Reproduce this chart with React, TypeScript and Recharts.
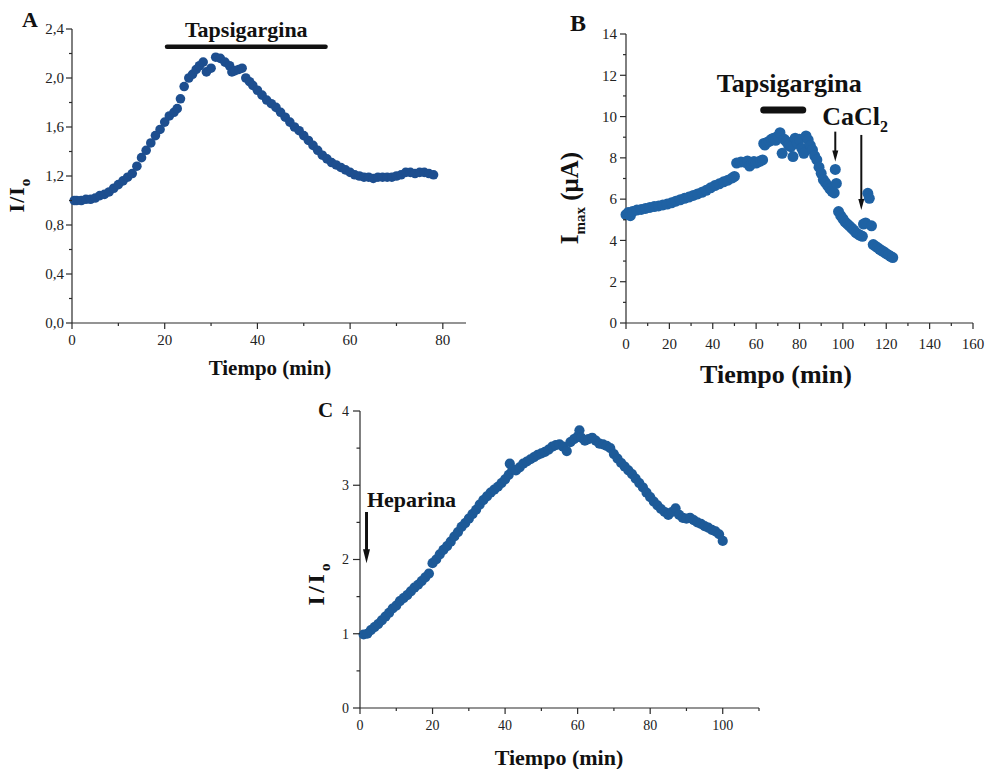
import React from 'react';
import { ScatterChart, Scatter, XAxis, YAxis, ReferenceLine, ReferenceDot } from 'recharts';

const SERIF = '"Liberation Serif", "Times New Roman", serif';
const AXIS = '#2a2a2a';
const INK = '#111';

// Panel A: tapsigargina, I/Io vs tiempo
const timeA = [0.5, 1, 2, 3, 4, 5, 6, 7, 8, 9, 10, 11, 12, 13, 14, 15, 16, 17, 18, 19, 20, 21, 22, 22.7, 23.4, 24.2, 25.2, 26, 26.8, 27.5, 28.3, 29, 30, 31, 32, 33, 34, 34.5, 35.2, 36, 36.7, 37.5, 38.3, 39, 40, 41, 42, 43, 44, 45, 46, 47, 48, 49, 50, 51, 52, 53, 54, 55, 56, 57, 58, 59, 60, 61, 62, 63, 64, 65, 66, 67, 68, 69, 70, 71, 72, 73, 74, 75, 76, 77, 78];
const ratioA = [1.0, 1.0, 1.0, 1.01, 1.01, 1.02, 1.04, 1.05, 1.07, 1.1, 1.13, 1.16, 1.19, 1.22, 1.28, 1.35, 1.41, 1.47, 1.53, 1.58, 1.64, 1.69, 1.72, 1.75, 1.83, 1.93, 2.0, 2.03, 2.07, 2.1, 2.13, 2.05, 2.08, 2.17, 2.16, 2.13, 2.1, 2.05, 2.06, 2.07, 2.08, 2.0, 1.97, 1.94, 1.9, 1.86, 1.82, 1.79, 1.76, 1.72, 1.68, 1.64, 1.6, 1.57, 1.53, 1.49, 1.45, 1.41, 1.37, 1.34, 1.31, 1.29, 1.27, 1.25, 1.23, 1.21, 1.2, 1.19, 1.19, 1.18, 1.19, 1.19, 1.19, 1.19, 1.2, 1.21, 1.23, 1.23, 1.22, 1.23, 1.23, 1.22, 1.21];
const ticksAX = [0, 10, 20, 30, 40, 50, 60, 70, 80];
const ticksAY = [0, 0.2, 0.4, 0.6, 0.8, 1.0, 1.2, 1.4, 1.6, 1.8, 2.0, 2.2, 2.4];

// Panel B: Imax (uA) vs tiempo
const timeB = [0, 1, 2, 3, 5, 7, 9, 11, 13, 15, 17, 19, 21, 23, 25, 27, 29, 31, 33, 35, 37, 39, 41, 43, 45, 47, 49, 50, 51, 53, 55, 56, 57, 58, 59, 60, 61, 62, 63, 63.5, 64, 65, 66, 67, 68, 69, 70, 71, 72, 73, 74, 75, 76, 77, 78, 79, 80, 81, 82, 83, 84, 85, 86, 87, 88, 89, 90, 91, 92, 93, 94, 95, 96, 96.5, 97, 98, 99, 100, 101, 102, 103, 104, 105, 106, 107, 108, 109, 109.5, 110.5, 111.5, 112.2, 113.2, 114, 115, 116, 117, 118, 119, 120, 121, 122, 123];
const currentB = [5.25, 5.35, 5.2, 5.4, 5.47, 5.5, 5.55, 5.6, 5.64, 5.67, 5.72, 5.76, 5.82, 5.9, 5.97, 6.04, 6.1, 6.18, 6.25, 6.33, 6.43, 6.55, 6.66, 6.74, 6.84, 6.92, 7.03, 7.1, 7.75, 7.8, 7.78, 7.85, 7.6, 7.72, 7.82, 7.75, 7.8, 7.85, 7.9, 8.7, 8.62, 8.75, 8.8, 8.9, 8.95, 8.85, 9.05, 9.22, 8.22, 8.9, 8.79, 8.6, 8.54, 8.06, 8.95, 8.7, 8.9, 8.46, 8.22, 9.06, 8.87, 8.6, 8.38, 8.1, 7.9, 7.55, 7.25, 6.95, 6.8, 6.65, 6.5, 6.38, 6.3, 7.44, 6.76, 5.4, 5.2, 5.05, 4.9, 4.8, 4.7, 4.6, 4.5, 4.38, 4.3, 4.25, 4.2, 4.79, 4.85, 6.28, 6.04, 4.71, 3.8, 3.72, 3.65, 3.57, 3.5, 3.44, 3.36, 3.3, 3.23, 3.17];
const ticksBX = [0, 10, 20, 30, 40, 50, 60, 70, 80, 90, 100, 110, 120, 130, 140, 150, 160];
const ticksBY = [0, 1, 2, 3, 4, 5, 6, 7, 8, 9, 10, 11, 12, 13, 14];

// Panel C: heparina, I/Io vs tiempo
const timeC = [1, 2, 3, 4, 5, 6, 7, 8, 9, 10, 11, 12, 13, 14, 15, 16, 17, 18, 19, 20, 21, 22, 23, 24, 25, 26, 27, 28, 29, 30, 31, 32, 33, 34, 35, 36, 37, 38, 39, 40, 41, 41.3, 42, 43, 44, 45, 46, 47, 48, 49, 50, 51, 52, 53, 54, 55, 56, 57, 58, 59, 60, 60.5, 61, 62, 63, 64, 65, 66, 67, 68, 69, 70, 71, 72, 73, 74, 75, 76, 77, 78, 79, 80, 81, 82, 83, 84, 85, 86, 87, 88, 89, 90, 91, 92, 93, 94, 95, 96, 97, 98, 99, 100];
const ratioC = [0.99, 1.0, 1.05, 1.09, 1.13, 1.18, 1.23, 1.28, 1.34, 1.38, 1.44, 1.48, 1.52, 1.57, 1.62, 1.66, 1.71, 1.76, 1.81, 1.95, 2.0, 2.07, 2.13, 2.18, 2.24, 2.31, 2.37, 2.44, 2.49, 2.55, 2.61, 2.67, 2.74, 2.8, 2.85, 2.9, 2.94, 2.98, 3.03, 3.08, 3.14, 3.29, 3.21, 3.2, 3.24, 3.29, 3.32, 3.35, 3.38, 3.41, 3.43, 3.45, 3.48, 3.52, 3.54, 3.55, 3.52, 3.46, 3.58, 3.62, 3.66, 3.74, 3.64, 3.6, 3.62, 3.64, 3.6, 3.56, 3.55, 3.53, 3.5, 3.42, 3.36, 3.3, 3.25, 3.2, 3.15, 3.09, 3.03, 2.97, 2.9, 2.84, 2.78, 2.73, 2.68, 2.64, 2.6, 2.64, 2.69, 2.6, 2.56, 2.55, 2.56, 2.53, 2.5, 2.48, 2.45, 2.43, 2.4, 2.38, 2.34, 2.25];
const ticksCX = [0, 10, 20, 30, 40, 50, 60, 70, 80, 90, 100, 110];
const ticksCY = [0, 0.5, 1, 1.5, 2, 2.5, 3, 3.5, 4];

const zip = (ts: number[], vs: number[]) => ts.map((t, i) => ({ t, v: vs[i] }));
const dataA = zip(timeA, ratioA);
const dataB = zip(timeB, currentB);
const dataC = zip(timeC, ratioC);

type TickOpts = {
  side: 'left' | 'bottom';
  major: (v: number) => boolean;
  fmt: (v: number) => string;
  size: number;
  gap: number;
  len?: number;
};

// axis ticks drawn by hand so minor ticks get no label and a shorter mark
const makeTick = (o: TickOpts) => (props: any) => {
  const { x, y, payload } = props;
  const v = payload.value as number;
  const big = o.major(v);
  const len = big ? o.len ?? 6 : (o.len ?? 6) / 2;
  if (o.side === 'left') {
    return (
      <g>
        <line x1={x - len} y1={y} x2={x} y2={y} stroke={AXIS} strokeWidth={1.2} />
        {big && (
          <text x={x - o.gap} y={y} dy="0.35em" textAnchor="end" fontFamily={SERIF} fontSize={o.size} fill="#222">
            {o.fmt(v)}
          </text>
        )}
      </g>
    );
  }
  return (
    <g>
      <line x1={x} y1={y} x2={x} y2={y + len} stroke={AXIS} strokeWidth={1.2} />
      {big && (
        <text x={x} y={y + o.gap} textAnchor="middle" fontFamily={SERIF} fontSize={o.size} fill="#222">
          {o.fmt(v)}
        </text>
      )}
    </g>
  );
};

const dot = (r: number, fill: string) => (p: any) => <circle cx={p.cx} cy={p.cy} r={r} fill={fill} />;

const arrowHead = (w: number, h: number) => (p: any) => (
  <polygon points={`${p.cx - w},${p.cy - h} ${p.cx + w},${p.cy - h} ${p.cx},${p.cy}`} fill={INK} />
);

const note = (content: React.ReactNode, size: number, anchor: 'start' | 'middle' = 'middle') => (p: any) => (
  <text x={p.cx} y={p.cy} textAnchor={anchor} fontFamily={SERIF} fontWeight="bold" fontSize={size} fill={INK}>
    {content}
  </text>
);

const axisLine = { stroke: AXIS, strokeWidth: 1.2 };
const comma = (v: number) => v.toFixed(1).replace('.', ',');
const plain = (v: number) => String(v);

function PanelA() {
  return (
    <ScatterChart width={470} height={390} margin={{ top: 29, right: 4, bottom: 0, left: 0 }}>
      <XAxis
        type="number"
        dataKey="t"
        domain={[0, 85]}
        ticks={ticksAX}
        interval={0}
        height={67}
        tickSize={0}
        tickMargin={0}
        tickLine={false}
        axisLine={axisLine}
        tick={makeTick({ side: 'bottom', major: (v) => v % 20 === 0, fmt: plain, size: 15, gap: 22 })}
      />
      <YAxis
        type="number"
        dataKey="v"
        domain={[0, 2.4]}
        ticks={ticksAY}
        interval={0}
        width={72}
        tickSize={0}
        tickMargin={0}
        tickLine={false}
        axisLine={axisLine}
        tick={makeTick({ side: 'left', major: (v) => Math.round(v * 10) % 4 === 0, fmt: comma, size: 15, gap: 8 })}
      />
      <ReferenceLine segment={[{ x: 20.5, y: 2.256 }, { x: 54.7, y: 2.256 }]} stroke={INK} strokeWidth={4.5} strokeLinecap="round" />
      <ReferenceDot x={37.6} y={2.335} shape={note('Tapsigargina', 22)} />
      <Scatter data={dataA} isAnimationActive={false} shape={dot(4.8, '#1d4e8f')} />
    </ScatterChart>
  );
}

function PanelB() {
  return (
    <ScatterChart width={451} height={390} margin={{ top: 34, right: 18, bottom: 0, left: 0 }}>
      <XAxis
        type="number"
        dataKey="t"
        domain={[0, 160]}
        ticks={ticksBX}
        interval={0}
        height={67}
        tickSize={0}
        tickMargin={0}
        tickLine={false}
        axisLine={axisLine}
        tick={makeTick({ side: 'bottom', major: (v) => v % 20 === 0, fmt: plain, size: 15, gap: 26 })}
      />
      <YAxis
        type="number"
        dataKey="v"
        domain={[0, 14]}
        ticks={ticksBY}
        interval={0}
        width={86}
        tickSize={0}
        tickMargin={0}
        tickLine={false}
        axisLine={axisLine}
        tick={makeTick({ side: 'left', major: (v) => v % 2 === 0, fmt: plain, size: 15, gap: 9 })}
      />
      <ReferenceLine segment={[{ x: 63.5, y: 10.32 }, { x: 81.5, y: 10.32 }]} stroke={INK} strokeWidth={7} strokeLinecap="round" />
      <ReferenceDot x={75.3} y={11.19} shape={note('Tapsigargina', 26)} />
      <ReferenceDot
        x={90.5}
        y={9.59}
        shape={note(
          <>
            CaCl
            <tspan dy={7} fontSize={16}>
              2
            </tspan>
          </>,
          26,
          'start'
        )}
      />
      <ReferenceLine segment={[{ x: 96.5, y: 9.27 }, { x: 96.5, y: 8.2 }]} stroke={INK} strokeWidth={2} />
      <ReferenceDot x={96.5} y={7.82} shape={arrowHead(3, 11)} />
      <ReferenceLine segment={[{ x: 108.5, y: 9.11 }, { x: 108.5, y: 5.9 }]} stroke={INK} strokeWidth={2} />
      <ReferenceDot x={108.5} y={5.47} shape={arrowHead(3, 11)} />
      <Scatter data={dataB} isAnimationActive={false} shape={dot(5.5, '#1f62a4')} />
    </ScatterChart>
  );
}

function PanelC() {
  return (
    <ScatterChart width={480} height={379} margin={{ top: 21, right: 11, bottom: 0, left: 0 }}>
      <XAxis
        type="number"
        dataKey="t"
        domain={[0, 110]}
        ticks={ticksCX}
        interval={0}
        height={61}
        tickSize={0}
        tickMargin={0}
        tickLine={false}
        axisLine={axisLine}
        tick={makeTick({ side: 'bottom', major: (v) => v % 20 === 0, fmt: plain, size: 14, gap: 22 })}
      />
      <YAxis
        type="number"
        dataKey="v"
        domain={[0, 4]}
        ticks={ticksCY}
        interval={0}
        width={70}
        tickSize={0}
        tickMargin={0}
        tickLine={false}
        axisLine={axisLine}
        tick={makeTick({ side: 'left', major: (v) => Number.isInteger(v), fmt: plain, size: 14, gap: 11, len: 7 })}
      />
      <ReferenceLine segment={[{ x: 1.8, y: 2.64 }, { x: 1.8, y: 2.1 }]} stroke={INK} strokeWidth={3} />
      <ReferenceDot x={1.8} y={1.95} shape={arrowHead(3.5, 14)} />
      <ReferenceDot x={1.9} y={2.707} shape={note('Heparina', 22, 'start')} />
      <Scatter data={dataC} isAnimationActive={false} shape={dot(5.1, '#1d5a98')} />
    </ScatterChart>
  );
}

function RotTitle({ x, y, size, spacing = 0, children }: { x: number; y: number; size: number; spacing?: number; children: React.ReactNode }) {
  return (
    <text
      x={x}
      y={y}
      transform={`rotate(-90, ${x}, ${y})`}
      textAnchor="middle"
      fontFamily={SERIF}
      fontWeight="bold"
      fontSize={size}
      letterSpacing={spacing}
      fill={INK}
    >
      {children}
    </text>
  );
}

export default function App() {
  const bold = { fontFamily: SERIF, fontWeight: 'bold' as const, fill: INK };
  return (
    <div style={{ position: 'absolute', left: 0, top: 0, width: 991, height: 769, background: '#fff', overflow: 'hidden' }}>
      <div style={{ position: 'absolute', left: 0, top: 0 }}>
        <PanelA />
      </div>
      <div style={{ position: 'absolute', left: 540, top: 0 }}>
        <PanelB />
      </div>
      <div style={{ position: 'absolute', left: 290, top: 390 }}>
        <PanelC />
      </div>
      <svg width={991} height={769} style={{ position: 'absolute', left: 0, top: 0, pointerEvents: 'none' }}>
        <text x={22} y={27} fontSize={22} {...bold}>A</text>
        <text x={570} y={31} fontSize={24} {...bold}>B</text>
        <text x={318} y={417} fontSize={21} {...bold}>C</text>

        <text x={270} y={375} fontSize={21} textAnchor="middle" {...bold}>Tiempo (min)</text>
        <text x={776} y={383} fontSize={26} textAnchor="middle" {...bold}>Tiempo (min)</text>
        <text x={559} y={765} fontSize={22} textAnchor="middle" {...bold}>Tiempo (min)</text>

        <RotTitle x={24} y={195} size={22} spacing={1}>
          I/I
          <tspan dy={6} fontSize={15}>o</tspan>
        </RotTitle>
        <RotTitle x={578} y={198} size={25}>
          I
          <tspan dy={7} fontSize={15}>max</tspan>
          <tspan dy={-7}> (μA)</tspan>
        </RotTitle>
        <RotTitle x={324} y={583} size={24} spacing={3}>
          I/I
          <tspan dy={6} fontSize={15}>o</tspan>
        </RotTitle>
      </svg>
    </div>
  );
}
